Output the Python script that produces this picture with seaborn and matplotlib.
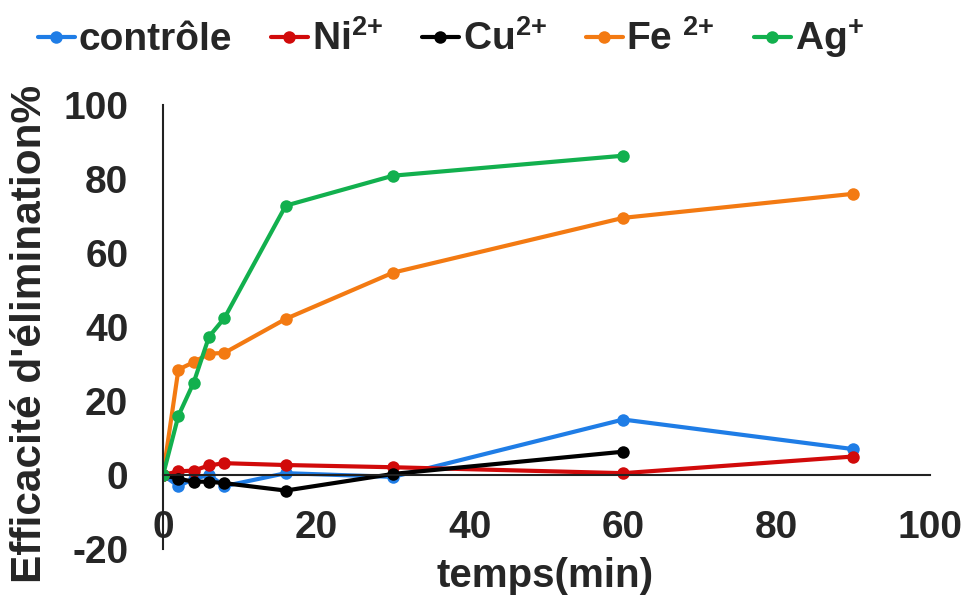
import matplotlib
matplotlib.use("Agg")
import matplotlib.pyplot as plt
import seaborn as sns
import pandas as pd

# ---- data ----
temps_full = [0, 2, 4, 6, 8, 16, 30, 60, 90]
temps_60 = [0, 2, 4, 6, 8, 16, 30, 60]
controle = [0, -3.0, -1.0, 0.0, -3.0, 0.5, -0.5, 15.0, 7.0]
ni = [0, 1.0, 1.2, 2.6, 3.2, 2.7, 2.1, 0.5, 5.0]
cu = [0, -1.0, -1.8, -1.8, -2.2, -4.2, 0.3, 6.3]
fe = [0, 28.5, 30.5, 32.8, 33.0, 42.2, 54.7, 69.5, 76.0]
ag = [0, 16.0, 25.0, 37.4, 42.4, 72.8, 80.9, 86.3]

series_names = ["contrôle",
                "Ni$^{\\mathbf{2}\\mathbf{+}}$",
                "Cu$^{\\mathbf{2}\\mathbf{+}}$",
                "Fe $^{\\mathbf{2}\\mathbf{+}}$",
                "Ag$^{\\mathbf{+}}$"]
series_data = [(temps_full, controle), (temps_full, ni), (temps_60, cu), (temps_full, fe), (temps_60, ag)]
colors = ["#1f7de6", "#d10a0a", "#000000", "#f37a12", "#12b04e"]

x_ticks = [0, 20, 40, 60, 80, 100]
y_ticks = [-20, 0, 20, 40, 60, 80, 100]

rows = []
for name, (t, v) in zip(series_names, series_data):
    for ti, vi in zip(t, v):
        rows.append({"temps": ti, "eff": vi, "serie": name})
df = pd.DataFrame(rows)

sns.set_style("white")
plt.rcParams["font.family"] = ["Liberation Sans", "DejaVu Sans"]
plt.rcParams["font.weight"] = "bold"
plt.rcParams["mathtext.fontset"] = "custom"
plt.rcParams["mathtext.rm"] = "Liberation Sans:bold"
plt.rcParams["mathtext.bf"] = "Liberation Sans:bold"

fig = plt.figure(figsize=(9.67, 5.98), dpi=100)
ax = fig.add_axes([0.1686, 0.0819, 0.7931, 0.7425])

sns.lineplot(data=df, x="temps", y="eff", hue="serie", hue_order=series_names,
             palette=colors, marker="o", markersize=9, markeredgewidth=0,
             linewidth=3.0, sort=False, estimator=None, ax=ax, legend=True)

ax.set_xlim(0, 100)
ax.set_ylim(-20, 100)
ax.set_xticks(x_ticks)
ax.set_yticks(y_ticks)
ax.set_xticklabels([str(t) for t in x_ticks])
ax.set_yticklabels([str(t) for t in y_ticks])

for s in ["top", "right"]:
    ax.spines[s].set_visible(False)
ax.spines["bottom"].set_position(("data", 0))
for s in ["left", "bottom"]:
    ax.spines[s].set_color("#222222")
    ax.spines[s].set_linewidth(1.5)

ax.tick_params(axis="x", direction="out", length=5, width=1.5, pad=20, labelsize=28, color="#222222")
ax.tick_params(axis="y", direction="out", length=8, width=1.5, pad=17, labelsize=28, color="#222222")
for lab in ax.get_xticklabels() + ax.get_yticklabels():
    lab.set_fontweight("bold")

ax.set_xlabel("")
ax.set_ylabel("")
fig.text(0.564, 0.036, "temps(min)", ha="center", va="center", fontsize=29, fontweight="bold")
fig.text(0.031, 0.442, "Efficacité d'élimination%", ha="center", va="center", rotation=90,
         fontsize=30.5, fontweight="bold")

handles, labels = ax.get_legend_handles_labels()
ax.get_legend().remove()
leg = fig.legend(handles, labels, loc="center", bbox_to_anchor=(0.466, 0.935), ncol=5,
                 frameon=False, handlelength=0.95, handletextpad=0.1,
                 columnspacing=1.0, prop={"weight": "bold", "size": 28})

fig.savefig("out.png", dpi=100)
